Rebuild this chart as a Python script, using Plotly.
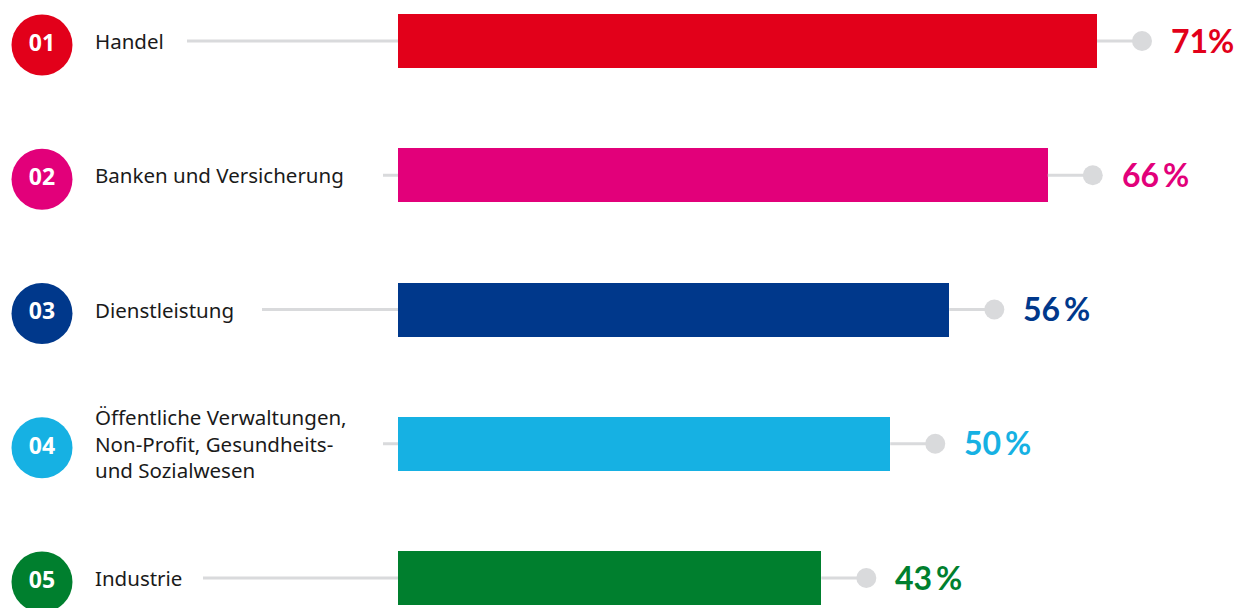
import plotly.graph_objects as go

numbers = ["01", "02", "03", "04", "05"]
categories = ["Handel", "Banken und Versicherung", "Dienstleistung",
              "Öffentliche Verwaltungen,<br>Non-Profit, Gesundheits-<br>und Sozialwesen",
              "Industrie"]
values = [71, 66, 56, 50, 43]
value_labels = ["71%", "66\u2009%", "56\u2009%", "50\u2009%", "43\u2009%"]
colors = ["#e2001a", "#e2007a", "#00388b", "#16b1e3", "#007f2e"]

# style: pixel geometry
W, H = 1235, 608
PX0 = 398            # pixel of 0 %
PXPER = 9.845        # pixels per percent
ROW = 134.25
TOP = 41
connector_start_px = [187, 383, 262, 383, 203]

def px2x(p):
    return (p - PX0) / PXPER

x_range = [px2x(0), px2x(W)]
y_top = -TOP / ROW
y_bottom = (H - TOP) / ROW
ypos = list(range(len(categories)))
dot_off = 45 / PXPER
grey = "#d9dadc"

fig = go.Figure()

# connector lines left
for i in ypos:
    fig.add_shape(type="line", x0=px2x(connector_start_px[i]), x1=0, y0=i, y1=i,
                  line=dict(color=grey, width=3), layer="below")

# right lines + dots
for i, v in enumerate(values):
    fig.add_trace(go.Scatter(x=[v, v + dot_off], y=[i, i], mode="lines",
                             line=dict(color=grey, width=3), hoverinfo="skip",
                             showlegend=False))
fig.add_trace(go.Scatter(x=[v + dot_off for v in values], y=ypos, mode="markers",
                         marker=dict(size=20, color=grey), hoverinfo="skip",
                         showlegend=False))

fig.add_trace(go.Bar(x=values, y=ypos, orientation="h", width=54 / ROW,
                     marker=dict(color=colors, line=dict(width=0)),
                     hoverinfo="skip", showlegend=False))

# number circles
fig.add_trace(go.Scatter(x=[px2x(42)] * len(numbers), y=[i + 4 / ROW for i in ypos],
                         mode="markers+text", text=numbers, textposition="middle center",
                         marker=dict(size=61, color=colors, line=dict(width=0)),
                         textfont=dict(family="Noto Sans", size=23, color="white", weight="bold"),
                         hoverinfo="skip", showlegend=False))

for i, c in enumerate(categories):
    fig.add_annotation(x=px2x(93), y=i, text=c, xanchor="left", yanchor="middle",
                       showarrow=False, align="left",
                       font=dict(family="Noto Sans", size=20.5, color="#1a1a1a"))
    fig.add_annotation(x=values[i] + dot_off, y=i, text=value_labels[i], xanchor="left",
                       yanchor="middle", xshift=27, yshift=1, showarrow=False,
                       font=dict(family="Lato", size=32, color=colors[i], weight="bold"))

fig.update_layout(
    width=W, height=H, margin=dict(l=0, r=0, t=0, b=0),
    paper_bgcolor="white", plot_bgcolor="white",
    xaxis=dict(range=x_range, visible=False, fixedrange=True),
    yaxis=dict(range=[y_bottom, y_top], visible=False, fixedrange=True),
    bargap=0,
)

fig.write_html("out.html")
